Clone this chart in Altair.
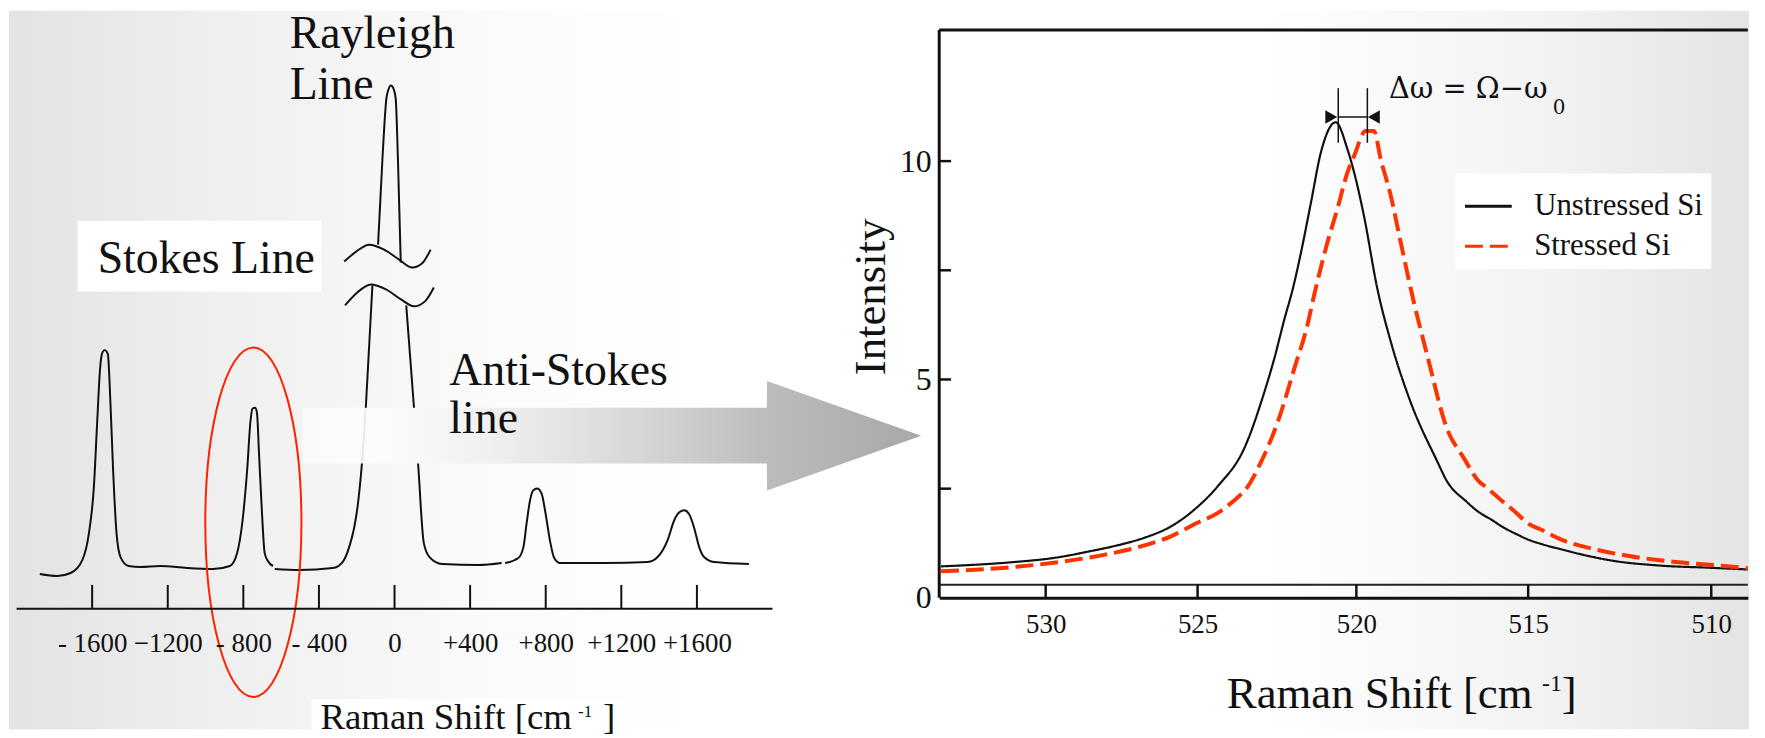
import altair as alt
import pandas as pd

FONT = "Liberation Serif"
INK = "#111111"
RED = "#ff3300"

# ---------------- Left panel: schematic spectrum (shift in cm-1, arbitrary intensity) ----------------
left_tick_values = [-1600, -1200, -800, -400, 0, 400, 800, 1200, 1600]
left_tick_labels = ["- 1600", "\u22121200", "- 800", "- 400", "0", "+400", "+800", "+1200", "+1600"]

stokes_x = [-1877, -1784, -1714, -1652, -1617, -1591, -1573, -1559, -1547, -1533, -1517, -1503, -1489,
            -1471, -1450, -1407, -1345, -1240, -1099, -959, -871, -833, -804, -780, -762, -752, -738,
            -728, -717, -704, -687, -670, -643]
stokes_y = [34, 32, 35, 48, 75, 121, 188, 238, 256, 259, 255, 205, 138, 75, 51, 42, 41, 42, 40, 39, 42,
            55, 88, 138, 188, 200, 201, 196, 155, 105, 55, 47, 42]

ray_low_left_x = [-634, -503, -327, -275, -240, -213, -196, -173, -152, -117]
ray_low_left_y = [39, 38, 40, 46, 61, 81, 101, 144, 201, 324]

ray_top_x = [-87, -64, -43, -32, -20, -8, 6, 18, 33]
ray_top_y = [365, 451, 512, 521, 525, 523, 512, 451, 347]

ray_low_right_x = [62, 103, 125, 155, 185, 252, 445, 567]
ray_low_right_y = [304, 201, 144, 65, 51, 44, 43, 45]

anti_x = [585, 655, 682, 699, 717, 734, 755, 778, 799, 822, 845, 875, 1112, 1340, 1392, 1445, 1480,
          1507, 1533, 1559, 1586, 1612, 1638, 1691, 1875]
anti_y = [45, 50, 61, 85, 108, 118, 120, 115, 95, 68, 50, 45, 45, 46, 51, 68, 88, 96, 98, 94, 80, 61,
          51, 46, 44]

wave_up_x = [-266, -203, -134, -55, 24, 94, 145, 191]
wave_up_y = [348, 358, 365, 360, 350, 342, 346, 360]
wave_lo_x = [-262, -197, -125, -45, 34, 103, 161, 208]
wave_lo_y = [304, 317, 325, 320, 310, 303, 308, 322]

arrow_x = [-487, 1970, 1971, 2787]
arrow_lo = [145, 145, 118, 173]
arrow_hi = [201, 201, 228, 173]

ellipse_x = [-747]
ellipse_y = [86]

left_text = ["Rayleigh", "Line", "Stokes Line", "Anti-Stokes", "line", "Raman Shift [cm", "-1", "]"]
left_text_x = [-555, -555, -1571, 290, 290, -392, 971, 1103]
left_text_y = [563, 511, 337, 224, 176, -122, -110, -122]
left_text_size = [46, 46, 46, 46, 46, 37, 17, 37]

left_box_x = [-1677, -440]
left_box_x2 = [-387, 1213]
left_box_y = [318, -122]
left_box_y2 = [389, -92]

# ---------------- Right panel: measured Si peak ----------------
series_names = ["Unstressed Si", "Stressed Si"]
unstressed_x = [533.44, 531.21, 529.67, 528.59, 527.48, 526.73, 525.84, 525.09, 524.36, 523.52, 522.89,
                522.58, 522.27, 522.0, 521.74, 521.43, 521.12, 520.65, 520.28, 520.07, 519.78, 519.39,
                519.0, 518.43, 517.65, 517.37, 516.79, 516.50, 516.01, 515.82, 515.24, 515.05, 514.59,
                514.14, 513.42, 512.69, 511.42, 510.06, 509.0]
unstressed_y = [0.72, 0.81, 0.92, 1.06, 1.23, 1.38, 1.65, 2.03, 2.56, 3.44, 4.73, 5.49, 6.37, 7.08, 7.92,
                9.05, 10.19, 10.89, 10.27, 9.74, 8.75, 7.08, 5.87, 4.50, 3.13, 2.68, 2.20, 2.00, 1.76,
                1.66, 1.42, 1.35, 1.22, 1.12, 0.97, 0.85, 0.74, 0.69, 0.65]
stressed_x = [533.44, 531.31, 529.67, 528.04, 526.95, 525.84, 525.09, 524.35, 523.74, 523.52, 522.99,
              522.47, 521.95, 521.54, 521.33, 520.91, 520.60, 520.28, 520.07, 519.73, 519.49, 519.29,
              519.0, 518.71, 518.33, 517.94, 517.37, 516.88, 516.45, 516.2, 515.82, 515.31, 515.05,
              514.59, 514.14, 513.23, 512.33, 510.97, 510.06, 509.0]
stressed_y = [0.61, 0.69, 0.81, 0.99, 1.16, 1.42, 1.69, 1.95, 2.30, 2.45, 3.13, 4.04, 5.26, 6.25, 6.93,
              8.14, 8.90, 9.74, 10.12, 10.69, 10.69, 10.04, 9.21, 8.14, 6.78, 5.56, 3.89, 3.21, 2.68,
              2.52, 2.26, 1.92, 1.73, 1.54, 1.35, 1.12, 0.97, 0.82, 0.76, 0.68]

right_x_ticks = [530, 525, 520, 515, 510]
right_y_labels = [0, 5, 10]
right_y_ticks = [2.5, 5, 7.5, 10]

peak_marks_x = [520.57, 519.68]
arrowhead_x = [520.79, 519.49]
arrowhead_shape = ["triangle-right", "triangle-left"]

right_text = ["Raman Shift [cm", "-1", "]"]
right_text_x = [524.08, 514.62, 514.08]
right_text_y = [-2.52, -2.13, -2.52]
right_text_size = [45, 24, 45]

shift_text = ["\u0394\u03c9 = \u03a9\u2212\u03c9", "0"]
shift_text_x = [519.05, 514.33]
shift_text_y = [11.45, 11.08]
shift_text_size = [29, 20]

# ---------------- build tables ----------------
def seg(xs, ys, name):
    return pd.DataFrame({"x": xs, "y": ys, "seg": name})

left_lines = pd.concat([
    seg(stokes_x, stokes_y, "stokes"),
    seg(ray_low_left_x, ray_low_left_y, "ray_ll"),
    seg(ray_top_x, ray_top_y, "ray_top"),
    seg(ray_low_right_x, ray_low_right_y, "ray_lr"),
    seg(anti_x, anti_y, "anti"),
    seg(wave_up_x, wave_up_y, "wave_up"),
    seg(wave_lo_x, wave_lo_y, "wave_lo"),
])
arrow_df = pd.DataFrame({"x": arrow_x, "lo": arrow_lo, "hi": arrow_hi})
ell_df = pd.DataFrame({"x": ellipse_x, "y": ellipse_y})
ltext_df = pd.DataFrame({"label": left_text, "x": left_text_x, "y": left_text_y, "size": left_text_size})
lbox_df = pd.DataFrame({"x": left_box_x, "x2": left_box_x2, "y": left_box_y, "y2": left_box_y2})
laxis_df = pd.DataFrame({"x": [-2000], "x2": [2000], "y": [-1]})
lticks_df = pd.DataFrame({"x": left_tick_values, "y": [-1] * len(left_tick_values),
                          "y2": [23] * len(left_tick_values)})

curve_df = pd.concat([
    pd.DataFrame({"x": unstressed_x, "y": unstressed_y, "series": series_names[0]}),
    pd.DataFrame({"x": stressed_x, "y": stressed_y, "series": series_names[1]}),
])

# ---------------- left panel ----------------
L_W, L_H = 927, 600
xL = alt.Scale(domain=[-2040, 2840], nice=False, zero=False)
yL = alt.Scale(domain=[0, 600], nice=False, zero=False)

expr = "'" + left_tick_labels[-1] + "'"
for v, lab in reversed(list(zip(left_tick_values[:-1], left_tick_labels[:-1]))):
    expr = f"datum.value == {v} ? '{lab}' : ({expr})"

axL = alt.Axis(values=left_tick_values, labelExpr=expr, domain=False, ticks=False, tickSize=0,
               grid=False, labelFont=FONT, labelFontSize=27, labelColor=INK, labelPadding=36,
               labelBaseline="middle", labelFlush=False, labelOverlap=False, title=None, zindex=2)


def XL(f="x"):
    return alt.X(f"{f}:Q", scale=xL, axis=axL)


def YL(f="y"):
    return alt.Y(f"{f}:Q", scale=yL, axis=None)


bg = alt.Chart(pd.DataFrame({"k": [0]})).mark_rect(
    fill=alt.LinearGradient(
        gradient="linear", x1=0, y1=0, x2=1, y2=0,
        stops=[alt.GradientStop(offset=0, color="#e3e3e3"),
               alt.GradientStop(offset=0.12, color="#efefef"),
               alt.GradientStop(offset=0.28, color="#fbfbfb"),
               alt.GradientStop(offset=0.4, color="#ffffff"),
               alt.GradientStop(offset=0.72, color="#ffffff"),
               alt.GradientStop(offset=0.88, color="#f3f3f3"),
               alt.GradientStop(offset=1, color="#e4e4e4")])
).encode(x=alt.value(0), x2=alt.value(1749), y=alt.value(0), y2=alt.value(722))

boxes = alt.Chart(lbox_df).mark_rect(fill="#ffffff").encode(
    x=XL("x"), x2="x2:Q", y=YL("y"), y2="y2:Q")

spectrum = alt.Chart(left_lines).mark_line(color=INK, strokeWidth=2, interpolate="monotone").encode(
    x=XL(), y=YL(), detail="seg:N")

arrow = alt.Chart(arrow_df).mark_area(
    interpolate="linear",
    fill=alt.LinearGradient(
        gradient="linear", x1=0, y1=0, x2=1, y2=0,
        stops=[alt.GradientStop(offset=0, color="rgba(255,255,255,0.5)"),
               alt.GradientStop(offset=0.12, color="#fcfcfc"),
               alt.GradientStop(offset=0.3, color="#f0f0f0"),
               alt.GradientStop(offset=0.55, color="#d6d6d6"),
               alt.GradientStop(offset=0.75, color="#bcbcbc"),
               alt.GradientStop(offset=1, color="#a8a8a8")])
).encode(x=XL(), y=YL("lo"), y2="hi:Q")

ELLIPSE = "M0,-1 A0.275,1 0 1,1 0,1 A0.275,1 0 1,1 0,-1 Z"
ellipse = alt.Chart(ell_df).mark_point(
    shape=ELLIPSE, size=123482, filled=False, color="#ff2200", stroke="#ff2200",
    strokeWidth=2, opacity=1).encode(x=XL(), y=YL())

laxis = alt.Chart(laxis_df).mark_rule(color=INK, strokeWidth=2).encode(x=XL(), x2="x2:Q", y=YL())
lticks = alt.Chart(lticks_df).mark_rule(color=INK, strokeWidth=2).encode(x=XL(), y=YL(), y2="y2:Q")

ltext = alt.Chart(ltext_df).mark_text(align="left", baseline="alphabetic", font=FONT, color=INK).encode(
    x=XL(), y=YL(), text="label:N", size=alt.Size("size:Q", scale=None, legend=None))

left = alt.layer(bg, boxes, spectrum, arrow, ellipse, laxis, lticks, ltext).properties(
    width=L_W, height=L_H)

# ---------------- right panel ----------------
R_W, R_H = 813, 590
xR = alt.Scale(domain=[533.5, 530, 525, 520, 515, 510, 509],
               range=[0, 107, 259.7, 419.3, 592, 776, 812.8], nice=False, zero=False)
yR = alt.Scale(domain=[0, 13.44], nice=False, zero=False)

axRX = alt.Axis(values=right_x_ticks, format="d", domain=True, domainColor=INK, domainWidth=3,
                ticks=False, tickSize=0, grid=False, labelFont=FONT, labelFontSize=27, labelColor=INK,
                labelPadding=27, labelBaseline="middle", labelFlush=False, labelOverlap=False,
                title=None, zindex=2)
axRY = alt.Axis(values=right_y_labels, format="d", domain=False, ticks=False, tickSize=0, grid=False,
                labelFont=FONT, labelFontSize=32, labelColor=INK, labelPadding=8,
                labelBaseline="middle", title=None, zindex=2)


def XR(f="x"):
    return alt.X(f"{f}:Q", scale=xR, axis=axRX)


def YR(f="y"):
    return alt.Y(f"{f}:Q", scale=yR, axis=axRY)


frame_df = pd.DataFrame({"x": [533.5, 533.5], "x2": [533.5, 509], "y": [0, 13.0], "y2": [13.0, 13.0]})
inner_df = pd.DataFrame({"x": [533.5], "x2": [509], "y": [0.3]})
ytick_df = pd.DataFrame({"y": right_y_ticks, "x": [533.5] * 4, "x2": [533.11] * 4})
xtick_df = pd.DataFrame({"x": right_x_ticks, "y": [0] * 5, "y2": [0.3] * 5})
vmark_df = pd.DataFrame({"x": peak_marks_x, "y": [10.42, 10.42], "y2": [11.67, 11.67]})
hmark_df = pd.DataFrame({"x": [peak_marks_x[0]], "x2": [peak_marks_x[1]], "y": [11.01]})
head_df = pd.DataFrame({"x": arrowhead_x, "y": [11.01, 11.01], "shape": arrowhead_shape})
rtext_df = pd.DataFrame({"label": right_text, "x": right_text_x, "y": right_text_y, "size": right_text_size})
stext_df = pd.DataFrame({"label": shift_text, "x": shift_text_x, "y": shift_text_y, "size": shift_text_size})
ytitle_df = pd.DataFrame({"label": ["Intensity"], "x": [535.27], "y": [6.89]})

frame = alt.Chart(frame_df).mark_rule(color=INK, strokeWidth=3).encode(
    x=XR(), x2="x2:Q", y=YR(), y2="y2:Q")
inner = alt.Chart(inner_df).mark_rule(color="#222222", strokeWidth=2).encode(x=XR(), x2="x2:Q", y=YR())
yticks = alt.Chart(ytick_df).mark_rule(color=INK, strokeWidth=2.5).encode(x=XR(), x2="x2:Q", y=YR())
xticks = alt.Chart(xtick_df).mark_rule(color=INK, strokeWidth=2.5).encode(x=XR(), y=YR(), y2="y2:Q")

curves = alt.Chart(curve_df).mark_line(interpolate="monotone").encode(
    x=XR(), y=YR(),
    color=alt.Color("series:N", scale=alt.Scale(domain=series_names, range=[INK, RED]), title=None),
    strokeDash=alt.StrokeDash("series:N", scale=alt.Scale(domain=series_names, range=[[1, 0], [18, 7]]),
                              title=None),
    strokeWidth=alt.condition("datum.series === 'Stressed Si'", alt.value(4), alt.value(2.2)),
)

vmarks = alt.Chart(vmark_df).mark_rule(color=INK, strokeWidth=1.5).encode(x=XR(), y=YR(), y2="y2:Q")
hmark = alt.Chart(hmark_df).mark_rule(color=INK, strokeWidth=1.5).encode(x=XR(), x2="x2:Q", y=YR())
heads = alt.Chart(head_df).mark_point(filled=True, color=INK, size=190, opacity=1).encode(
    x=XR(), y=YR(), shape=alt.Shape("shape:N", scale=None, legend=None))

rtext = alt.Chart(rtext_df).mark_text(align="left", baseline="alphabetic", font=FONT, color=INK).encode(
    x=XR(), y=YR(), text="label:N", size=alt.Size("size:Q", scale=None, legend=None))
stext = alt.Chart(stext_df).mark_text(align="left", baseline="alphabetic", font="DejaVu Serif",
                                      color=INK).encode(
    x=XR(), y=YR(), text="label:N", size=alt.Size("size:Q", scale=None, legend=None))
ytitle = alt.Chart(ytitle_df).mark_text(align="center", baseline="alphabetic", font=FONT, color=INK,
                                        fontSize=45, angle=270).encode(x=XR(), y=YR(), text="label:N")

right = alt.layer(frame, inner, yticks, xticks, curves, vmarks, hmark, heads, rtext, stext,
                  ytitle).properties(width=R_W, height=R_H)

chart = alt.hconcat(left, right, spacing=8, bounds="flush").properties(
    padding=0, background="#ffffff"
).configure_view(stroke="transparent").configure_legend(
    orient="none", legendX=1454, legendY=163.5, fillColor="#ffffff", padding=8,
    symbolType="stroke", symbolSize=2209, symbolStrokeWidth=3, labelFont=FONT, labelFontSize=31,
    labelColor=INK, labelOffset=21, rowPadding=0, labelLimit=400
)

chart.save("out.html", embed_options={"renderer": "svg", "actions": False})
